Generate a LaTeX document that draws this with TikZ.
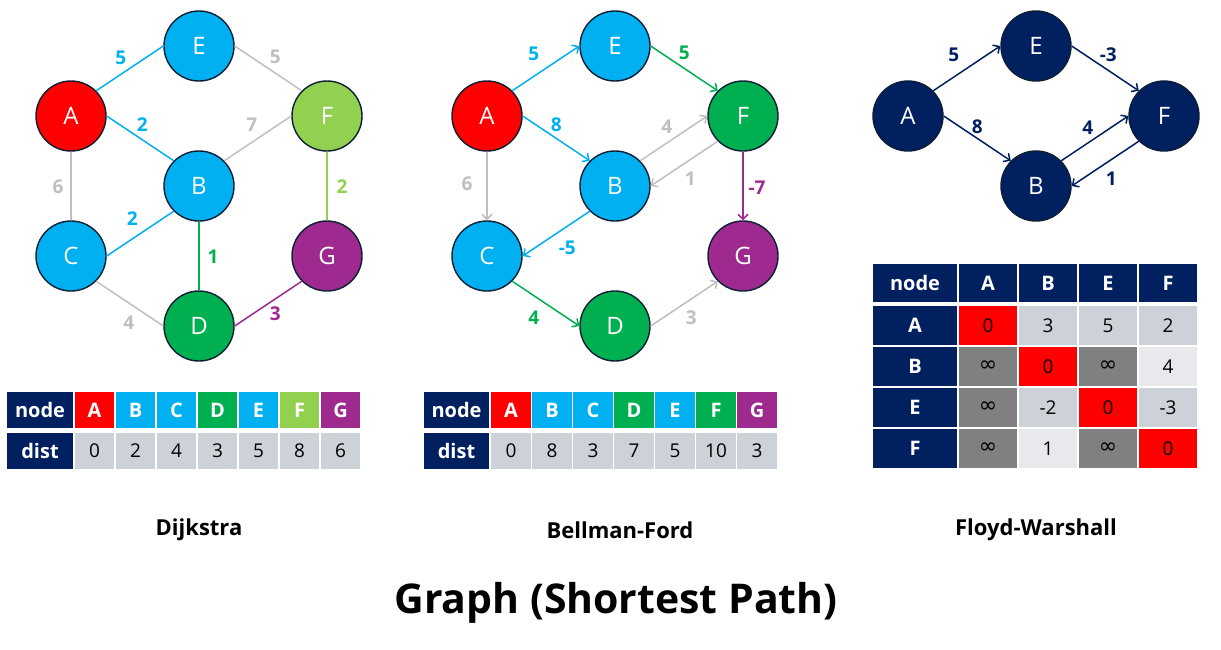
\documentclass[tikz,border=0pt]{standalone}
\usepackage{fontspec}
\setmainfont{Open Sans}
\newfontfamily\symfont{DejaVu Sans}
\usetikzlibrary{arrows.meta}

\definecolor{nodeblue}{HTML}{00B0F0}
\definecolor{nodered}{HTML}{FF0000}
\definecolor{lightgreen}{HTML}{92D050}
\definecolor{darkgreen}{HTML}{00B050}
\definecolor{gpurple}{HTML}{9E2A8F}
\definecolor{navy}{HTML}{002060}
\definecolor{edgegray}{HTML}{BFBFBF}
\definecolor{cellgray}{HTML}{CDD1D8}
\definecolor{cellpale}{HTML}{E7E9EC}
\definecolor{celldark}{HTML}{808080}
\definecolor{rim}{HTML}{0C1E33}
\newcommand\infsym{{\symfont\fontsize{22}{24}\selectfont ∞}}

\begin{document}
\begin{tikzpicture}[
    x=1pt, y=-1pt,
    vertex/.style={circle, draw=rim, line width=1.4pt, minimum size=70pt,
      inner sep=0pt, text=white, font=\fontsize{24}{26}\selectfont},
    wt/.style={inner sep=1pt, font=\bfseries\fontsize{19}{21}\selectfont},
    link/.style={line width=1.5pt},
    arc/.style={link, -{Straight Barb[length=5pt,width=10pt]}},
    cell/.style={inner sep=0pt, minimum width=39.5pt, minimum height=36pt,
      font=\fontsize{19}{21}\selectfont},
    head/.style={cell, fill=navy, text=white,
      font=\bfseries\fontsize{20}{22}\selectfont},
    caption/.style={font=\bfseries\fontsize{22}{26}\selectfont},
  ]
  \useasboundingbox (0,0) rectangle (1221,649);

  % Dijkstra
  \node[vertex, fill=nodered] (dA) at (71,116) {A};
  \node[vertex, fill=nodeblue] (dE) at (199,46) {E};
  \node[vertex, fill=lightgreen] (dF) at (327,116) {F};
  \node[vertex, fill=nodeblue] (dB) at (199,186) {B};
  \node[vertex, fill=nodeblue] (dC) at (71,256) {C};
  \node[vertex, fill=gpurple] (dG) at (327,256) {G};
  \node[vertex, fill=darkgreen] (dD) at (199,326) {D};

  \draw[link, nodeblue] (dA.45) -- node[wt, shift={(-9,-11)}] {5} (dE.180);
  \draw[link, edgegray] (dE.0) -- node[wt, shift={(7,-12)}] {5} (dF.135);
  \draw[link, nodeblue] (dA.0) -- node[wt, shift={(2,-14)}] {2} (dB.135);
  \draw[link, edgegray] (dB.45) -- node[wt, shift={(-6,-14)}] {7} (dF.180);
  \draw[link, edgegray] (dA.270) -- node[wt, shift={(-13,1)}] {6} (dC.90);
  \draw[link, lightgreen] (dF.270) -- node[wt, shift={(15,1)}] {2} (dG.90);
  \draw[link, nodeblue] (dB.225) -- node[wt, shift={(-8,-15)}] {2} (dC.0);
  \draw[link, darkgreen] (dB.270) -- node[wt, shift={(14,1)}] {1} (dD.90);
  \draw[link, edgegray] (dC.315) -- node[wt, shift={(-1,19)}] {4} (dD.180);
  \draw[link, gpurple] (dD.0) -- node[wt, shift={(7,10)}] {3} (dG.225);

  \node[head, minimum width=66pt] (dnode) at (40,410) {node};
  \node[head, minimum width=66pt] (ddist) at (40,451) {dist};
  \foreach \n/\c/\v [count=\i from 0] in {A/nodered/0, B/nodeblue/2,
      C/nodeblue/4, D/darkgreen/3, E/nodeblue/5, F/lightgreen/8, G/gpurple/6} {
    \node[head, fill=\c] (dh\n) at (94.5+41*\i,410) {\n};
    \node[cell, fill=cellgray] (dv\n) at (94.5+41*\i,451) {\v};
  }
  \node[caption] (capD) at (199,530) {Dijkstra};

  % Bellman-Ford
  \node[vertex, fill=nodered] (bA) at (487,116) {A};
  \node[vertex, fill=nodeblue] (bE) at (615,46) {E};
  \node[vertex, fill=darkgreen] (bF) at (743,116) {F};
  \node[vertex, fill=nodeblue] (bB) at (615,186) {B};
  \node[vertex, fill=nodeblue] (bC) at (487,256) {C};
  \node[vertex, fill=gpurple] (bG) at (743,256) {G};
  \node[vertex, fill=darkgreen] (bD) at (615,326) {D};

  \draw[arc, nodeblue] (bA.45) -- node[wt, shift={(-12,-15)}] {5} (bE.180);
  \draw[arc, darkgreen] (bE.0) -- node[wt, shift={(0,-16)}] {5} (bF.135);
  \draw[arc, nodeblue] (bA.0) -- node[wt, shift={(0,-14)}] {8} (bB.135);
  \draw[arc, edgegray] (bB.45) -- node[wt, shift={(-7,-12)}] {4} (bF.180);
  \draw[arc, edgegray] (bF.225) -- node[wt, shift={(6,15)}] {1} (bB.0);
  \draw[arc, edgegray] (bA.270) -- node[wt, shift={(-20,-2)}] {6} (bC.90);
  \draw[arc, gpurple] (bF.270) -- node[wt, shift={(14,2)}] {-7} (bG.90);
  \draw[arc, nodeblue] (bB.225) -- node[wt, shift={(11,14)}] {-5} (bC.0);
  \draw[arc, darkgreen] (bC.315) -- node[wt, shift={(-12,14)}] {4} (bD.180);
  \draw[arc, edgegray] (bD.0) -- node[wt, shift={(7,14)}] {3} (bG.225);

  \node[head, minimum width=65pt] (bnode) at (456.5,410) {node};
  \node[head, minimum width=65pt] (bdist) at (456.5,451) {dist};
  \foreach \n/\c/\v [count=\i from 0] in {A/nodered/0, B/nodeblue/8,
      C/nodeblue/3, D/darkgreen/7, E/nodeblue/5, F/darkgreen/10, G/gpurple/3} {
    \node[head, fill=\c] (bh\n) at (511+41*\i,410) {\n};
    \node[cell, fill=cellgray] (bv\n) at (511+41*\i,451) {\v};
  }
  \node[caption] (capB) at (620,530) {Bellman-Ford};

  % Floyd-Warshall
  \node[vertex, fill=navy] (fA) at (908,116) {A};
  \node[vertex, fill=navy] (fE) at (1036,46) {E};
  \node[vertex, fill=navy] (fF) at (1164,116) {F};
  \node[vertex, fill=navy] (fB) at (1036,186) {B};

  \draw[arc, navy] (fA.45) -- node[wt, shift={(-13,-14)}] {5} (fE.180);
  \draw[arc, navy] (fE.0) -- node[wt, shift={(3,-14)}] {-3} (fF.135);
  \draw[arc, navy] (fA.0) -- node[wt, shift={(0,-12)}] {8} (fB.135);
  \draw[arc, navy] (fB.45) -- node[wt, shift={(-7,-11)}] {4} (fF.180);
  \draw[arc, navy] (fF.225) -- node[wt, shift={(6,15)}] {1} (fB.0);

  \node[head, minimum width=84pt, minimum height=38pt] (fnode) at (915,283) {node};
  \foreach \n [count=\j from 0] in {A,B,E,F}
    \node[head, minimum width=58pt, minimum height=38pt] (fh\n) at (988+60*\j,283) {\n};
  \foreach \r/\cells [count=\i from 0] in {
      A/{nodered/0,cellgray/3,cellgray/5,cellgray/2},
      B/{celldark/\infsym,nodered/0,celldark/\infsym,cellpale/4},
      E/{celldark/\infsym,cellgray/-2,nodered/0,cellgray/-3},
      F/{celldark/\infsym,cellpale/1,celldark/\infsym,nodered/0}} {
    \node[head, minimum width=84pt, minimum height=39pt] (fr\r) at (915,325.5+41*\i) {\r};
    \foreach \c/\v [count=\j from 0] in \cells
      \node[cell, fill=\c, minimum width=58pt, minimum height=39pt]
        (f\r\j) at (988+60*\j,325.5+41*\i) {\v};
  }
  \node[caption] (capF) at (1036,530) {Floyd-Warshall};

  % Title
  \node[font=\bfseries\fontsize{41}{48}\selectfont] (title) at (616,603)
    {Graph (Shortest Path)};
\end{tikzpicture}
\end{document}
